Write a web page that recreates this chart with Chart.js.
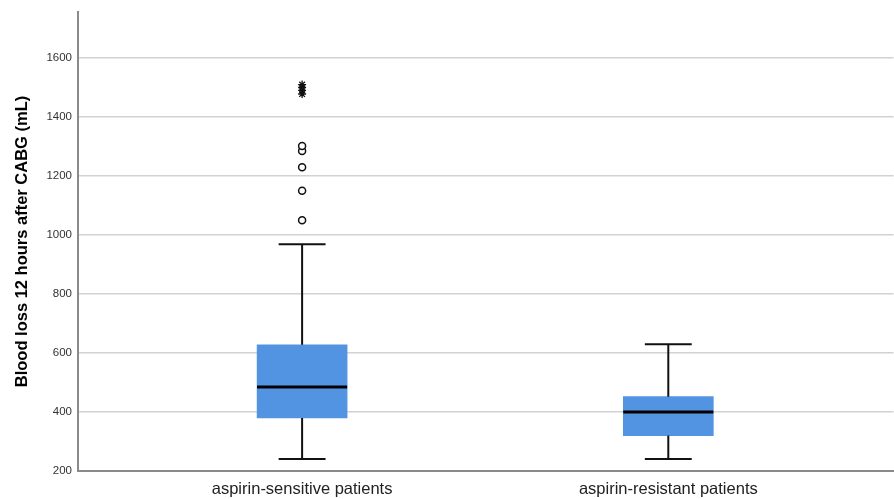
<!DOCTYPE html>
<html>
<head>
<meta charset="utf-8">
<script src="https://cdn.jsdelivr.net/npm/chart.js@4.4.1/dist/chart.umd.min.js"></script>
<style>
  html, body { margin: 0; padding: 0; background: #ffffff; overflow: hidden; }
  #wrap { width: 894px; height: 499px; overflow: hidden; }
</style>
</head>
<body>
<div id="wrap"><canvas id="c" width="899" height="499"></canvas></div>
<script>
const categories = ['aspirin-sensitive patients', 'aspirin-resistant patients'];
const whiskerLow = [241, 241];
const q1 = [380, 320];
const median = [485, 400];
const q3 = [628, 452];
const whiskerHigh = [969, 630];
const outlierCircles = [[1050, 1150, 1230, 1285, 1302], []];
const outlierStars = [[1478, 1490, 1500, 1510], []];
const yTicks = [200, 400, 600, 800, 1000, 1200, 1400, 1600];

const BOX_HALF = 0.123;   // half box width in category units
const CAP_HALF = 0.064;   // half cap width in category units

const datasets = [];
categories.forEach((cat, i) => {
  // median
  datasets.push({ type: 'scatter', showLine: true, data: [{x: i - BOX_HALF, y: median[i]}, {x: i + BOX_HALF, y: median[i]}],
    borderColor: '#000', borderWidth: 3, pointRadius: 0, order: 1 });
  // whiskers
  datasets.push({ type: 'scatter', showLine: true, data: [{x: i, y: q3[i]}, {x: i, y: whiskerHigh[i]}],
    borderColor: '#111', borderWidth: 2, pointRadius: 0, order: 3 });
  datasets.push({ type: 'scatter', showLine: true, data: [{x: i, y: q1[i]}, {x: i, y: whiskerLow[i]}],
    borderColor: '#111', borderWidth: 2, pointRadius: 0, order: 3 });
  // caps
  datasets.push({ type: 'scatter', showLine: true, data: [{x: i - CAP_HALF, y: whiskerHigh[i]}, {x: i + CAP_HALF, y: whiskerHigh[i]}],
    borderColor: '#111', borderWidth: 2, pointRadius: 0, order: 3 });
  datasets.push({ type: 'scatter', showLine: true, data: [{x: i - CAP_HALF, y: whiskerLow[i]}, {x: i + CAP_HALF, y: whiskerLow[i]}],
    borderColor: '#111', borderWidth: 2, pointRadius: 0, order: 3 });
  // outliers
  if (outlierCircles[i].length) {
    datasets.push({ type: 'scatter', data: outlierCircles[i].map(v => ({x: i, y: v})),
      pointStyle: 'circle', pointRadius: 3.5, borderColor: '#111', borderWidth: 1.5, backgroundColor: '#fff', order: 0 });
  }
  if (outlierStars[i].length) {
    datasets.push({ type: 'scatter', data: outlierStars[i].map(v => ({x: i, y: v})),
      pointStyle: 'star', pointRadius: 4, borderColor: '#111', borderWidth: 1.3, backgroundColor: '#111', order: 0 });
  }
});
// boxes
datasets.push({
  type: 'bar',
  data: categories.map((c, i) => ({x: i, y: [q1[i], q3[i]]})),
  backgroundColor: '#5294e2', borderWidth: 0, barThickness: 90, order: 5
});

new Chart(document.getElementById('c'), {
  type: 'scatter',
  data: { datasets },
  options: {
    responsive: false,
    animation: false,
    events: [],
    layout: { padding: { top: 12, right: 0, left: 0, bottom: 0 } },
    plugins: { legend: { display: false }, tooltip: { enabled: false } },
    scales: {
      x: {
        type: 'linear', min: -0.612, max: 1.615, offset: false,
        grid: { display: false, drawTicks: false },
        border: { display: true, color: '#8a8a8a', width: 2 },
        afterBuildTicks: s => { s.ticks = categories.map((c, i) => ({ value: i })); },
        afterFit: s => { s.height = 28; s.paddingLeft = 0; s.paddingRight = 0; },
        ticks: {
          padding: 9, maxRotation: 0, autoSkip: false,
          color: '#222', font: { family: 'Liberation Sans, Arial, sans-serif', size: 16.5 },
          callback: v => categories[v]
        }
      },
      y: {
        type: 'linear', min: 200, max: 1756,
        afterBuildTicks: s => { s.ticks = yTicks.map(v => ({ value: v })); },
        afterFit: s => { s.width = 78; s.paddingTop = 0; s.paddingBottom = 0; },
        grid: { color: '#d2d2d2', lineWidth: 1.5, drawTicks: false },
        border: { display: true, color: '#8a8a8a', width: 2 },
        ticks: {
          padding: 6, color: '#333',
          font: { family: 'Liberation Sans, Arial, sans-serif', size: 11.5 },
          callback: v => String(v)
        },
        title: {
          display: true, text: 'Blood loss 12 hours after CABG (mL)',
          color: '#000', padding: { top: 13, bottom: 0 },
          font: { family: 'Liberation Sans, Arial, sans-serif', size: 16.5, weight: 'bold' }
        }
      }
    }
  }
});
</script>
</body>
</html>
